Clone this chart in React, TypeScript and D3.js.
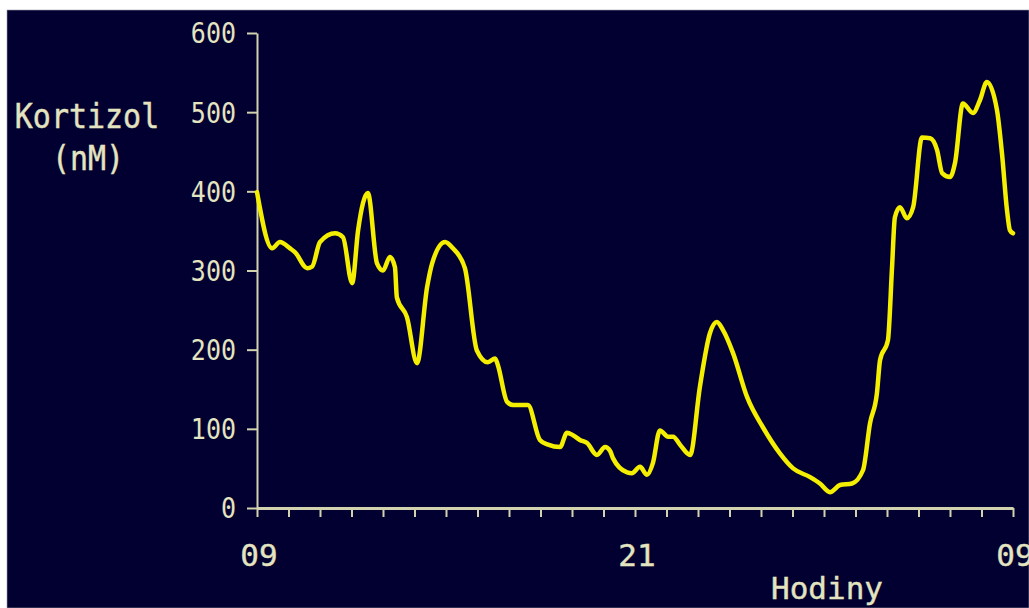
import * as d3 from 'd3';
import React, { useEffect, useRef } from 'react';

// hours after 09:00
const hours = [
  0, 0.48, 0.73, 1.05, 1.21, 1.59, 1.75, 2.0, 2.48, 2.73, 3.02, 3.21, 3.52, 3.81, 4.0,
  4.22, 4.38, 4.44, 4.76, 5.08, 5.4, 5.56, 5.97, 6.22, 6.6, 6.98, 7.33, 7.56, 7.65, 7.94,
  8.13, 8.6, 8.98, 9.24, 9.62, 9.84, 10.03, 10.25, 10.48, 10.79, 11.05, 11.21, 11.3, 11.75,
  11.9, 12.16, 12.38, 12.57, 12.79, 13.05, 13.21, 13.43, 13.75, 14.06, 14.38, 14.6, 14.79,
  15.11, 15.56, 16.06, 16.6, 17.02, 17.56, 17.87, 18.19, 18.51, 18.89, 19.24, 19.46, 19.68,
  19.78, 20.03, 20.16, 20.25, 20.41, 20.63, 20.83, 21.11, 21.37, 21.59, 21.75, 22.0, 22.16,
  22.41, 22.73, 22.95, 23.17, 23.49, 23.65, 23.81, 23.9, 24.0,
];

// cortisol, nM
const cortisol = [
  399, 328, 336, 328, 323, 303, 305, 336, 347, 342, 284, 351, 398, 309, 300,
  317, 304, 266, 241, 183, 279, 309, 336, 328, 303, 199, 184, 189, 180, 134,
  130, 130, 86, 80, 77, 95, 92, 86, 82, 67, 77, 72, 63, 45,
  44, 52, 42, 57, 98, 90, 90, 80, 67, 153, 221, 235, 225,
  196, 140, 102, 69, 50, 39, 31, 20, 29, 31, 48, 107, 145,
  187, 212, 304, 367, 380, 366, 380, 468, 467, 452, 423, 418, 436,
  511, 499, 515, 538, 503, 448, 376, 351, 347,
];

const yTicks = [0, 100, 200, 300, 400, 500, 600];
const xLabels = [
  { h: 0, label: '09' },
  { h: 12, label: '21' },
  { h: 24, label: '09' },
];

const W = 1029, H = 608;
const bg = '#020030';
const ink = '#e4e4c0';
const axisInk = '#d2d2ae';
const font = '"DejaVu Sans Mono", monospace';

const App = () => {
  const ref = useRef<SVGSVGElement>(null);

  useEffect(() => {
    const svg = d3.select(ref.current);
    svg.selectAll('*').remove();

    svg.append('rect').attr('width', W).attr('height', H).attr('fill', '#ffffff');
    svg.append('rect')
      .attr('x', 7).attr('y', 10)
      .attr('width', W - 7).attr('height', H - 10)
      .attr('fill', bg)
      .attr('stroke', '#9a9aa8').attr('stroke-width', 0.6);

    const x = d3.scaleLinear().domain([0, 24]).range([257, 1013]);
    const y = d3.scaleLinear().domain([0, 600]).range([508, 33]);

    // y axis
    const gy = svg.append('g')
      .attr('transform', `translate(${x(0)},0)`)
      .call(d3.axisLeft(y).tickValues(yTicks).tickSize(10).tickSizeOuter(0).tickFormat(() => ''));
    gy.select('.domain').attr('stroke', axisInk).attr('stroke-width', 2);
    gy.selectAll('.tick line').attr('stroke', axisInk).attr('stroke-width', 2);

    // x axis
    const gx = svg.append('g')
      .attr('transform', `translate(0,${y(0)})`)
      .call(d3.axisBottom(x).tickValues(d3.range(0, 25)).tickSize(9).tickSizeOuter(0).tickFormat(() => ''));
    gx.select('.domain').attr('stroke', axisInk).attr('stroke-width', 3);
    gx.selectAll('.tick line').attr('stroke', axisInk).attr('stroke-width', 2);

    // y tick labels
    svg.append('g')
      .selectAll('text')
      .data(yTicks)
      .join('text')
      .attr('transform', d => `translate(236,${y(d)}) scale(1,1.15)`)
      .attr('dy', '0.36em')
      .attr('text-anchor', 'end')
      .attr('font-family', font)
      .attr('font-size', 25)
      .attr('fill', ink)
      .text(d => d);

    // x labels
    svg.append('g')
      .selectAll('text')
      .data(xLabels)
      .join('text')
      .attr('x', d => x(d.h) + 2)
      .attr('y', 566)
      .attr('text-anchor', 'middle')
      .attr('font-family', font)
      .attr('font-size', 31)
      .attr('fill', ink)
      .attr('stroke', ink).attr('stroke-width', 0.4)
      .text(d => d.label);

    svg.append('text')
      .attr('transform', 'translate(87,128) scale(1,1.12)')
      .attr('text-anchor', 'middle')
      .attr('font-family', font)
      .attr('font-size', 30)
      .attr('fill', ink)
      .attr('stroke', ink).attr('stroke-width', 0.4)
      .text('Kortizol');
    svg.append('text')
      .attr('transform', 'translate(88,170) scale(1,1.12)')
      .attr('text-anchor', 'middle')
      .attr('font-family', font)
      .attr('font-size', 30)
      .attr('fill', ink)
      .attr('stroke', ink).attr('stroke-width', 0.4)
      .text('(nM)');
    svg.append('text')
      .attr('x', 827).attr('y', 599)
      .attr('text-anchor', 'middle')
      .attr('font-family', font)
      .attr('font-size', 31)
      .attr('fill', ink)
      .attr('stroke', ink).attr('stroke-width', 0.4)
      .text('Hodiny');

    const line = d3.line<number>()
      .x((_, i) => x(hours[i]))
      .y(d => y(d))
      .curve(d3.curveMonotoneX);

    svg.append('path')
      .datum(cortisol)
      .attr('d', line)
      .attr('fill', 'none')
      .attr('stroke', '#f4ee00')
      .attr('stroke-width', 4.5)
      .attr('stroke-linejoin', 'round')
      .attr('stroke-linecap', 'round');
  }, []);

  return (
    <svg ref={ref} width={W} height={H} style={{ position: 'absolute', left: 0, top: 0 }} />
  );
};

export default App;
